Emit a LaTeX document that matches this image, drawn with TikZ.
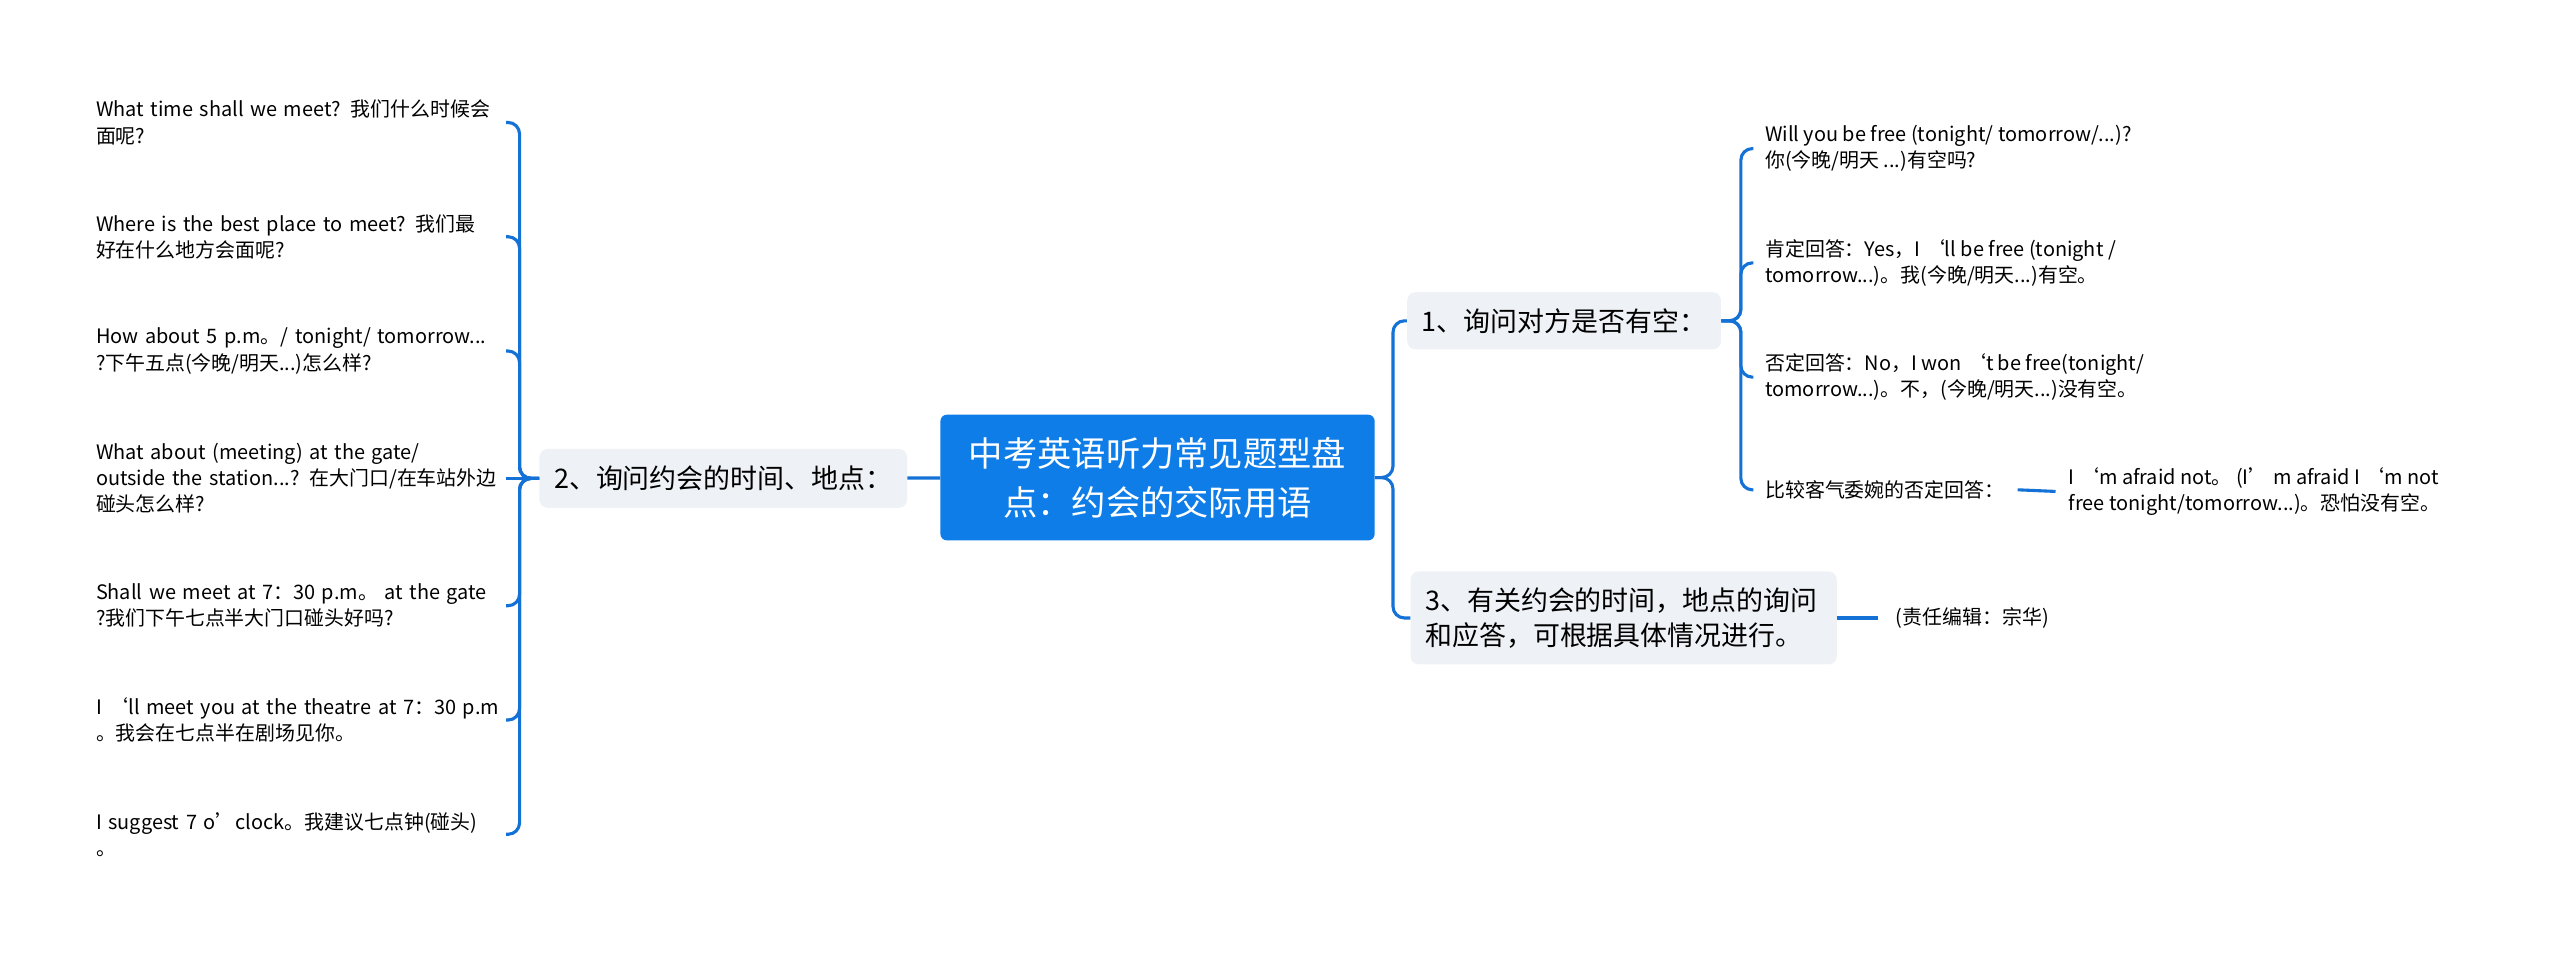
\documentclass[tikz,border=0pt]{standalone}
\usepackage{fontspec}
\newfontfamily\cjk{Noto Sans CJK SC}
\usetikzlibrary{positioning}
\definecolor{mapblue}{RGB}{14,125,232}
\definecolor{linkblue}{RGB}{20,114,214}
\definecolor{topicgray}{RGB}{238,241,245}

\begin{document}
\begin{tikzpicture}[
    x=1pt, y=-1pt,
    font=\cjk,
    rootbox/.style={fill=mapblue, rounded corners=4pt, text=white, align=center,
                    font=\cjk\fontsize{21}{30}\selectfont,
                    minimum width=266pt, minimum height=77pt},
    topic/.style={fill=topicgray, rounded corners=5pt, align=left, inner xsep=9pt,
                  font=\cjk\fontsize{16.5}{21}\selectfont},
    lleaf/.style={anchor=east, text width=251pt, inner xsep=0pt, align=left,
                  font=\cjk\fontsize{12.2}{16}\selectfont},
    rleaf/.style={anchor=west, inner xsep=7pt, align=left,
                  font=\cjk\fontsize{12.2}{16}\selectfont},
    link/.style={draw=linkblue, line width=1.9pt, rounded corners=7pt}]
    \useasboundingbox (0,0) rectangle (1568,586);
    % centre and main topics
    \node[rootbox] (root) at (709,292.5) {中考英语听力常见题型盘\\点：约会的交际用语};
    \node[topic, minimum width=218pt, minimum height=36pt] (topicB) at (443,293)
        {2、询问约会的时间、地点：};
    \node[topic, minimum width=188pt, minimum height=35pt] (topicA) at (958,196.5)
        {1、询问对方是否有空：};
    \node[topic, text width=243pt, minimum height=57pt] (topicC) at (994.5,378.5)
        {3、有关约会的时间，地点的询问\\和应答，可根据具体情况进行。};
    % left leaves
    \node[lleaf] (lleaf1) at (310,75) {What time shall we meet? 我们什么时候会\\面呢?};
    \node[lleaf] (lleaf2) at (310,145) {Where is the best place to meet? 我们最\\好在什么地方会面呢?};
    \node[lleaf] (lleaf3) at (310,215) {How about 5 p.m。/ tonight/ tomorrow...\\?下午五点(今晚/明天...)怎么样?};
    \node[lleaf] (lleaf4) at (310,293) {What about (meeting) at the gate/\\outside the station...? 在大门口/在车站外边\\碰头怎么样?};
    \node[lleaf] (lleaf5) at (310,371) {Shall we meet at 7：30 p.m。 at the gate\\?我们下午七点半大门口碰头好吗?};
    \node[lleaf] (lleaf6) at (310,441) {I ‘ll meet you at the theatre at 7：30 p.m\\。我会在七点半在剧场见你。};
    \node[lleaf] (lleaf7) at (310,511) {I suggest 7 o’clock。我建议七点钟(碰头)\\。};
    % right leaves
    \node[rleaf] (rleaf1) at (1074,91) {Will you be free (tonight/ tomorrow/...)?\\你(今晚/明天 ...)有空吗?};
    \node[rleaf] (rleaf2) at (1074,161) {肯定回答：Yes，I ‘ll be free (tonight /\\tomorrow...)。我(今晚/明天...)有空。};
    \node[rleaf] (rleaf3) at (1074,231) {否定回答：No，I won ‘t be free(tonight/\\tomorrow...)。不，(今晚/明天...)没有空。};
    \node[rleaf] (rleaf4) at (1074,300) {比较客气委婉的否定回答：};
    \node[rleaf, inner xsep=8pt] (afraid) at (1259,301)
        {I ‘m afraid not。 (I’ m afraid I ‘m not\\free tonight/tomorrow...)。恐怕没有空。};
    \node[rleaf, inner xsep=11pt] (editor) at (1150,378.5) {(责任编辑：宗华)};
    % connectors
    \draw[link] (topicB) -- (root);
    \draw[link] (topicB.west) -- ++(-12,0) |- (lleaf1.east);
    \draw[link] (topicB.west) -- ++(-12,0) |- (lleaf2.east);
    \draw[link] (topicB.west) -- ++(-12,0) |- (lleaf3.east);
    \draw[link] (topicB.west) -- (lleaf4.east);
    \draw[link] (topicB.west) -- ++(-12,0) |- (lleaf5.east);
    \draw[link] (topicB.west) -- ++(-12,0) |- (lleaf6.east);
    \draw[link] (topicB.west) -- ++(-12,0) |- (lleaf7.east);
    \draw[link] (root.east) -- ++(11,0) |- (topicA.west);
    \draw[link] (root.east) -- ++(11,0) |- (topicC.west);
    \draw[link] (topicA.east) -- ++(12,0) |- (rleaf1.west);
    \draw[link] (topicA.east) -- ++(12,0) |- (rleaf2.west);
    \draw[link] (topicA.east) -- ++(12,0) |- (rleaf3.west);
    \draw[link] (topicA.east) -- ++(12,0) |- (rleaf4.west);
    \draw[link] ([xshift=1pt]rleaf4.east) -- (afraid.west);
    \draw[link] (topicC.east) -- (editor.west);
\end{tikzpicture}
\end{document}
